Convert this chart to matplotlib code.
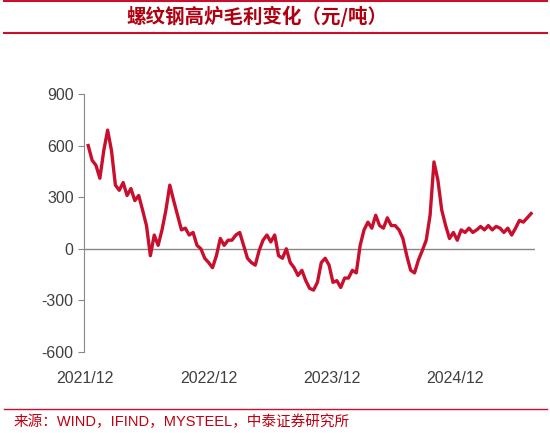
import matplotlib
matplotlib.use("Agg")
import matplotlib.pyplot as plt
import pandas as pd

plt.rcParams['font.family'] = ['Liberation Sans', 'Noto Sans CJK SC', 'DejaVu Sans']
plt.rcParams['axes.unicode_minus'] = False

values = [600, 515, 485, 410, 570, 690, 570, 370, 340, 385, 310, 350, 280, 310, 225, 135, -40, 80, 20, 110,
          225, 370, 280, 195, 110, 120, 80, 95, 20, 0, -55, -80, -110, -40, 60, 20, 50, 50, 80, 95,
          20, -55, -80, -95, -10, 50, 80, 40, 80, -40, -55, 0, -80, -110, -155, -125, -185, -230, -240, -195,
          -80, -55, -95, -195, -185, -225, -170, -170, -125, -140, 20, 110, 155, 120, 195, 135, 120, 180, 135, 135,
          110, 60, -40, -125, -140, -65, -10, 50, 195, 505, 400, 225, 135, 60, 95, 50, 110, 95, 120, 95,
          110, 130, 110, 135, 110, 130, 120, 95, 120, 80, 120, 165, 155, 180, 205]
dates = pd.date_range('2021-12-10', periods=len(values), freq='11.5D')
tick_dates = pd.to_datetime(['2021-12-01', '2022-12-01', '2023-12-01', '2024-12-01'])
tick_labels = ['2021/12', '2022/12', '2023/12', '2024/12']
y_ticks = [-600, -300, 0, 300, 600, 900]

red = '#C8102E'
fig = plt.figure(figsize=(5.5, 4.33), dpi=100)
ax = fig.add_axes([0.153, 0.187, 0.82, 0.596])
ax.plot(dates, values, color=red, lw=2.4)
ax.set_ylim(-600, 900)
ax.set_yticks(y_ticks)
ax.set_xlim(pd.Timestamp('2021-11-28'), pd.Timestamp('2025-07-25'))
ax.set_xticks(tick_dates)
ax.set_xticklabels(tick_labels)
for s in ['top', 'right', 'bottom']:
    ax.spines[s].set_visible(False)
ax.spines['left'].set_color('#888888')
ax.axhline(0, color='#888888', lw=1, zorder=0)
ax.tick_params(axis='y', colors='#888888', labelcolor='#404040', labelsize=11.5, length=4)
ax.tick_params(axis='x', length=0, labelcolor='#404040', labelsize=11.5, pad=14)

fig.add_artist(plt.Line2D([0.007, 0.995], [0.997, 0.997], color=red, lw=1.5))
fig.add_artist(plt.Line2D([0.007, 0.995], [0.924, 0.924], color=red, lw=1.5))
fig.add_artist(plt.Line2D([0.007, 0.995], [0.055, 0.055], color=red, lw=1))
fig.text(0.468, 0.962, '螺纹钢高炉毛利变化（元/吨）', color='#B00010', fontsize=14,
         fontweight='bold', style='italic', ha='center', va='center',
         family=['Noto Sans CJK SC', 'DejaVu Sans'])
fig.text(0.025, 0.025, '来源：WIND，IFIND，MYSTEEL，中泰证券研究所', color='#C00010', fontsize=10.5,
         ha='left', va='center', family=['Liberation Sans', 'Noto Sans CJK SC'])
fig.savefig('out.png', dpi=100)
